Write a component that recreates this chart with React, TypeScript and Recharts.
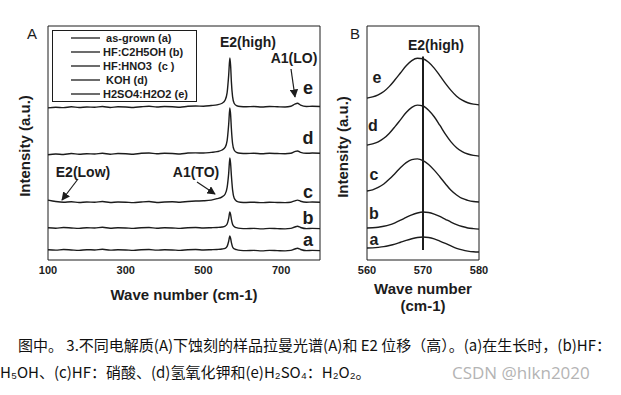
import React from 'react';
import { LineChart, Line, XAxis, YAxis, Legend, ReferenceArea, ReferenceLine } from 'recharts';

// Panel A: full Raman spectra
const waveA = [100, 120, 140, 160, 180, 200, 220, 240, 260, 280, 300, 320, 340, 360, 380, 400, 420, 440, 460, 480, 500, 520, 535, 548, 556, 561, 565, 568, 570, 572, 575, 579, 585, 595, 610, 630, 650, 670, 690, 710, 725, 735, 742, 750, 765, 780, 800];
const asGrownA = [0.44, 0.42, 0.45, 0.43, 0.41, 0.44, 0.43, 0.46, 0.42, 0.44, 0.43, 0.41, 0.44, 0.45, 0.42, 0.44, 0.43, 0.41, 0.44, 0.45, 0.43, 0.44, 0.45, 0.47, 0.5, 0.58, 0.8, 1.03, 0.92, 0.74, 0.56, 0.48, 0.44, 0.41, 0.4, 0.41, 0.39, 0.41, 0.4, 0.39, 0.41, 0.47, 0.5, 0.45, 0.4, 0.41, 0.4];
const hfEthA = [1.38, 1.36, 1.39, 1.37, 1.35, 1.38, 1.37, 1.4, 1.36, 1.38, 1.37, 1.35, 1.38, 1.39, 1.36, 1.38, 1.37, 1.35, 1.38, 1.39, 1.37, 1.38, 1.39, 1.41, 1.45, 1.54, 1.78, 2.05, 1.94, 1.74, 1.53, 1.43, 1.38, 1.35, 1.34, 1.35, 1.33, 1.35, 1.34, 1.33, 1.35, 1.41, 1.44, 1.39, 1.34, 1.35, 1.34];
const hfHno3A = [2.56, 2.5, 2.47, 2.49, 2.46, 2.48, 2.47, 2.5, 2.46, 2.48, 2.47, 2.45, 2.48, 2.5, 2.46, 2.48, 2.49, 2.47, 2.5, 2.52, 2.53, 2.56, 2.62, 2.7, 2.82, 3.1, 3.7, 4.36, 4.1, 3.6, 3.0, 2.65, 2.52, 2.47, 2.46, 2.47, 2.45, 2.47, 2.46, 2.45, 2.47, 2.53, 2.56, 2.51, 2.47, 2.48, 2.47];
const kohA = [4.5, 4.53, 4.51, 4.55, 4.52, 4.54, 4.53, 4.56, 4.52, 4.55, 4.54, 4.52, 4.56, 4.57, 4.54, 4.56, 4.55, 4.53, 4.57, 4.58, 4.57, 4.6, 4.63, 4.7, 4.82, 5.1, 5.8, 6.5, 6.2, 5.6, 4.98, 4.7, 4.6, 4.56, 4.55, 4.56, 4.54, 4.56, 4.55, 4.54, 4.56, 4.63, 4.66, 4.6, 4.56, 4.57, 4.56];
const h2so4A = [6.5, 6.53, 6.51, 6.55, 6.52, 6.54, 6.53, 6.56, 6.52, 6.55, 6.54, 6.52, 6.55, 6.57, 6.54, 6.56, 6.55, 6.53, 6.57, 6.58, 6.57, 6.6, 6.63, 6.7, 6.84, 7.15, 7.9, 8.63, 8.3, 7.6, 6.98, 6.7, 6.6, 6.56, 6.55, 6.56, 6.54, 6.56, 6.55, 6.54, 6.57, 6.66, 6.7, 6.62, 6.56, 6.57, 6.56];

// Panel B: E2(high) zoom
const waveB = [560, 561, 562, 563, 564, 565, 566, 567, 568, 569, 570, 571, 572, 573, 574, 575, 576, 577, 578, 579, 580];
const asGrownB = [0.51, 0.52, 0.54, 0.57, 0.62, 0.68, 0.76, 0.84, 0.91, 0.96, 0.98, 0.96, 0.9, 0.81, 0.71, 0.6, 0.5, 0.43, 0.38, 0.35, 0.34];
const hfEthB = [1.37, 1.38, 1.4, 1.44, 1.5, 1.59, 1.7, 1.82, 1.93, 2.01, 2.05, 2.03, 1.96, 1.86, 1.74, 1.62, 1.51, 1.43, 1.37, 1.34, 1.32];
const hfHno3B = [2.95, 3.0, 3.1, 3.25, 3.46, 3.7, 3.95, 4.16, 4.29, 4.32, 4.25, 4.08, 3.84, 3.56, 3.26, 2.98, 2.78, 2.63, 2.55, 2.5, 2.48];
const kohB = [4.91, 4.96, 5.05, 5.2, 5.42, 5.7, 6.0, 6.3, 6.52, 6.62, 6.58, 6.4, 6.12, 5.76, 5.38, 5.05, 4.8, 4.63, 4.53, 4.47, 4.44];
const h2so4B = [6.92, 6.97, 7.06, 7.2, 7.42, 7.7, 8.0, 8.3, 8.52, 8.62, 8.6, 8.45, 8.2, 7.88, 7.55, 7.25, 7.0, 6.83, 6.72, 6.66, 6.63];

const seriesKeys = ['a', 'b', 'c', 'd', 'e'];
const seriesNames = [' as-grown (a)', 'HF:C2H5OH (b)', 'HF:HNO3  (c )', ' KOH (d)', 'H2SO4:H2O2 (e)'];
const yTicks = [0, 1, 2, 3, 4, 5, 6, 7, 8, 9, 10];
const xTicksA = [100, 300, 500, 700];
const xTicksB = [560, 570, 580];

const dataA = waveA.map((x, i) => ({ x, a: asGrownA[i], b: hfEthA[i], c: hfHno3A[i], d: kohA[i], e: h2so4A[i] }));
const dataB = waveB.map((x, i) => ({ x, a: asGrownB[i], b: hfEthB[i], c: hfHno3B[i], d: kohB[i], e: h2so4B[i] }));

const font = '"Liberation Sans", Arial, sans-serif';
const ink = '#1c1c1c';

const LegendBox = ({ payload }: any) => {
  const items = [...(payload || [])].sort((p: any, q: any) => seriesKeys.indexOf(p.dataKey) - seriesKeys.indexOf(q.dataKey));
  return (
    <div style={{ border: `1px solid ${ink}`, background: '#fff', padding: '0 8px 0 18px', fontFamily: font }}>
      {items.map((p: any) => (
        <div key={p.dataKey} style={{ display: 'flex', alignItems: 'center', height: 14 }}>
          <svg width={29} height={4}>
            <line x1={0} y1={2} x2={29} y2={2} stroke={ink} strokeWidth={1.3} />
          </svg>
          <span style={{ marginLeft: 3, fontSize: 11, fontWeight: 'bold', color: ink, whiteSpace: 'pre' }}>{p.value}</span>
        </div>
      ))}
    </div>
  );
};

const bold = { fontFamily: font, fontWeight: 'bold', fill: ink } as const;

export default function App() {
  return (
    <div style={{ position: 'absolute', left: 0, top: 0, width: 621, height: 395, background: '#fff', overflow: 'hidden' }}>
      <div style={{ position: 'absolute', left: 0, top: 0 }}>
        <LineChart width={340} height={312} data={dataA} margin={{ top: 26, left: 48, right: 20, bottom: 0 }}>
          <XAxis dataKey="x" type="number" domain={[100, 800]} ticks={xTicksA} tickLine={false} axisLine={false}
            tickMargin={0} height={52} tick={{ fontSize: 11, fontWeight: 'bold', fill: ink, fontFamily: font }}
            label={{ value: 'Wave number (cm-1)', position: 'insideBottom', offset: 12, style: { fontSize: 15, fontWeight: 'bold', fill: ink, fontFamily: font } }} />
          <YAxis domain={[0, 10]} ticks={yTicks} width={0} tickSize={4} axisLine={false} tickLine={{ stroke: ink }}
            tickFormatter={() => ''} />
          <ReferenceArea x1={100} x2={800} y1={0} y2={10} fill="none" stroke={ink} strokeWidth={1} ifOverflow="visible" />
          <Legend layout="vertical" align="center" verticalAlign="middle" content={<LegendBox />}
            wrapperStyle={{ left: 52, top: 30, width: 'auto' }} />
          {seriesKeys.map((k, i) => (
            <Line key={k} dataKey={k} name={seriesNames[i]} type="monotone" stroke={ink} strokeWidth={1.4} dot={false} isAnimationActive={false} />
          ))}
        </LineChart>
      </div>

      <div style={{ position: 'absolute', left: 340, top: 0 }}>
        <LineChart width={160} height={320} data={dataB} margin={{ top: 26, left: 27, right: 21, bottom: 0 }}>
          <XAxis dataKey="x" type="number" domain={[560, 580]} ticks={xTicksB} tickLine={false} axisLine={false}
            tickMargin={0} height={60} tick={{ fontSize: 11, fontWeight: 'bold', fill: ink, fontFamily: font }}
            label={{
              content: ({ viewBox }: any) => (
                <text textAnchor="middle" style={{ fontSize: 15, ...bold }}>
                  <tspan x={viewBox.x + viewBox.width / 2} y={viewBox.y + 34}>Wave number</tspan>
                  <tspan x={viewBox.x + viewBox.width / 2} y={viewBox.y + 51}>(cm-1)</tspan>
                </text>
              ),
            }} />
          <YAxis domain={[0, 10]} ticks={yTicks} width={0} tickSize={4} axisLine={false} tickLine={{ stroke: ink }}
            tickFormatter={() => ''} />
          <ReferenceArea x1={560} x2={580} y1={0} y2={10} fill="none" stroke={ink} strokeWidth={1} ifOverflow="visible" />
          <ReferenceLine segment={[{ x: 570, y: 0.43 }, { x: 570, y: 8.7 }]} stroke={ink} strokeWidth={2} ifOverflow="visible" />
          {seriesKeys.map((k, i) => (
            <Line key={k} dataKey={k} name={seriesNames[i]} type="monotone" stroke={ink} strokeWidth={1.4} dot={false} isAnimationActive={false} />
          ))}
        </LineChart>
      </div>

      {/* annotations */}
      <svg width={621} height={395} style={{ position: 'absolute', left: 0, top: 0, pointerEvents: 'none' }}>
        <defs>
          <marker id="ah" viewBox="0 0 10 10" refX="9" refY="5" markerWidth="7" markerHeight="7" orient="auto">
            <path d="M0,0 L10,5 L0,10 z" fill={ink} />
          </marker>
        </defs>
        <text x={32} y={39} textAnchor="middle" style={{ fontFamily: font, fontSize: 15, fill: ink }}>A</text>
        <text x={355} y={39} textAnchor="middle" style={{ fontFamily: font, fontSize: 15, fill: ink }}>B</text>

        <text transform="translate(30,146) rotate(-90)" textAnchor="middle" style={{ ...bold, fontSize: 15 }}>Intensity (a.u.)</text>
        <text transform="translate(348,147) rotate(-90)" textAnchor="middle" style={{ ...bold, fontSize: 15 }}>Intensity (a.u.)</text>

        <text x={248} y={47} textAnchor="middle" style={{ ...bold, fontSize: 14 }}>E2(high)</text>
        <text x={294} y={63} textAnchor="middle" style={{ ...bold, fontSize: 14 }}>A1(LO)</text>
        <line x1={291} y1={69} x2={295} y2={97} stroke={ink} strokeWidth={1.2} markerEnd="url(#ah)" />
        <text x={83} y={177} textAnchor="middle" style={{ ...bold, fontSize: 14 }}>E2(Low)</text>
        <line x1={78} y1={179} x2={62} y2={200} stroke={ink} strokeWidth={1.2} markerEnd="url(#ah)" />
        <text x={196} y={177} textAnchor="middle" style={{ ...bold, fontSize: 14 }}>A1(TO)</text>
        <line x1={197} y1={182} x2={215} y2={194} stroke={ink} strokeWidth={1.2} markerEnd="url(#ah)" />

        {['e', 'd', 'c', 'b', 'a'].map((t, i) => (
          <text key={'A' + t} x={308} y={[94, 144, 198, 224, 246][i]} textAnchor="middle" style={{ ...bold, fontSize: 18 }}>{t}</text>
        ))}

        <text x={436} y={50} textAnchor="middle" style={{ ...bold, fontSize: 14 }}>E2(high)</text>
        {['e', 'd', 'c', 'b', 'a'].map((t, i) => (
          <text key={'B' + t} x={[377, 373, 374, 374, 374][i]} y={[83, 131, 180, 219, 245][i]} textAnchor="middle" style={{ ...bold, fontSize: 16 }}>{t}</text>
        ))}
      </svg>

      <div style={{ position: 'absolute', left: 18, top: 335, fontFamily: '"Noto Sans CJK SC", sans-serif', fontSize: 15, lineHeight: '20px', color: '#111', whiteSpace: 'nowrap' }}>
        图中。 3.不同电解质(A)下蚀刻的样品拉曼光谱(A)和 E2 位移（高）。(a)在生长时，(b)HF：
      </div>
      <div style={{ position: 'absolute', left: 0, top: 362, fontFamily: '"Noto Sans CJK SC", sans-serif', fontSize: 15, lineHeight: '20px', color: '#111', whiteSpace: 'nowrap' }}>
        H₅OH、(c)HF：硝酸、(d)氢氧化钾和(e)H₂SO₄：H₂O₂。
      </div>
      <div style={{ position: 'absolute', left: 452, top: 362, fontFamily: '"Open Sans", "Noto Sans", sans-serif', fontSize: 17, lineHeight: '22px', color: '#b4b4b4', whiteSpace: 'nowrap' }}>
        CSDN @hlkn2020
      </div>
    </div>
  );
}
